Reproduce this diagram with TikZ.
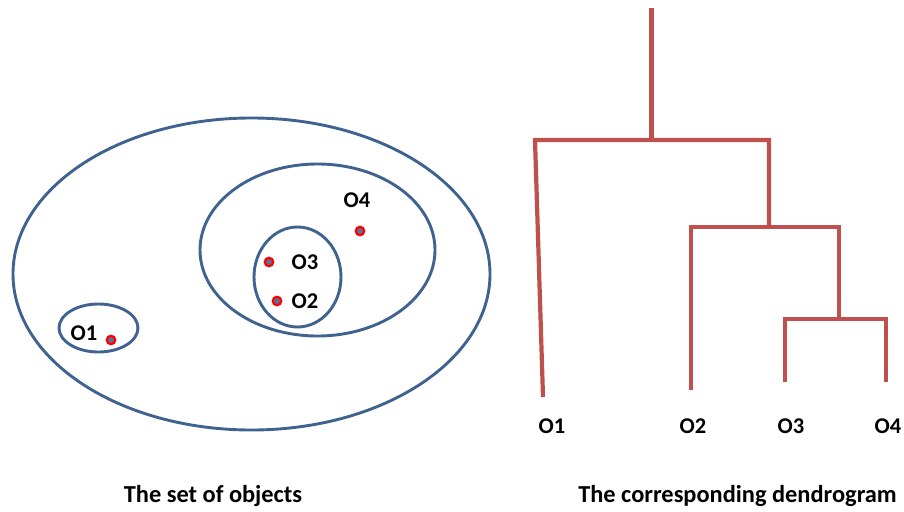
\documentclass[tikz,border=0pt]{standalone}
\usepackage{fontspec}
\setmainfont{Carlito}
\definecolor{eblue}{HTML}{3F628F}
\definecolor{dred}{HTML}{C0504D}
\definecolor{dotin}{HTML}{5A7395}
\begin{document}
\begin{tikzpicture}[x=1pt,y=-1pt,
  ell/.style={draw=eblue,line width=2.9pt},
  obj/.style={circle,draw=red,fill=dotin,line width=2.2pt,inner sep=0pt,minimum size=8.5pt},
  lbl/.style={font=\fontsize{22.5}{26}\selectfont\bfseries,inner sep=0pt},
  ttl/.style={font=\fontsize{24.4}{28}\selectfont\bfseries,inner sep=0pt},
  den/.style={draw=dred,line width=4.2pt}]
\useasboundingbox (0,0) rectangle (904,511);
% ellipses
\draw[ell] (251.5,274) ellipse [x radius=238.5, y radius=156];
\draw[ell] (317.5,250) ellipse [x radius=117.5, y radius=86];
\draw[ell] (297.5,277) ellipse [x radius=43.5, y radius=50];
\draw[ell] (98.5,328) ellipse [x radius=39.5, y radius=24];
% objects
\node[obj] (p1) at (111,340) {};
\node[obj] (p2) at (277,301) {};
\node[obj] (p3) at (269,262) {};
\node[obj] (p4) at (360,231) {};
\node[lbl] (l1) at (84,333) {O1};
\node[lbl] (l2) at (305,301) {O2};
\node[lbl] (l3) at (305,262) {O3};
\node[lbl] (l4) at (357,200) {O4};
% dendrogram
\coordinate (top) at (651.5,8);
\coordinate (r) at (651.5,140);
\coordinate (a1) at (535,140);
\coordinate (a2) at (769,140);
\coordinate (e1) at (543,397);
\coordinate (b) at (769,227);
\coordinate (b1) at (691,227);
\coordinate (b2) at (839,227);
\coordinate (e2) at (691,390);
\coordinate (c) at (839,319);
\coordinate (c1) at (785,319);
\coordinate (c2) at (886,319);
\coordinate (e3) at (785,382);
\coordinate (e4) at (886,382);
\draw[den] (top) -- (r);
\draw[den] (e1) -- (a1) -- (a2) -- (b);
\draw[den] (e2) -- (b1) -- (b2) -- (c);
\draw[den] (e3) -- (c1) -- (c2) -- (e4);
\node[lbl] (d1) at (552,426) {O1};
\node[lbl] (d2) at (693,426) {O2};
\node[lbl] (d3) at (791,426) {O3};
\node[lbl] (d4) at (888,426) {O4};
% titles
\node[ttl] (t1) at (213,496) {The set of objects};
\node[ttl] (t2) at (737.5,496) {The corresponding dendrogram};
\end{tikzpicture}
\end{document}
